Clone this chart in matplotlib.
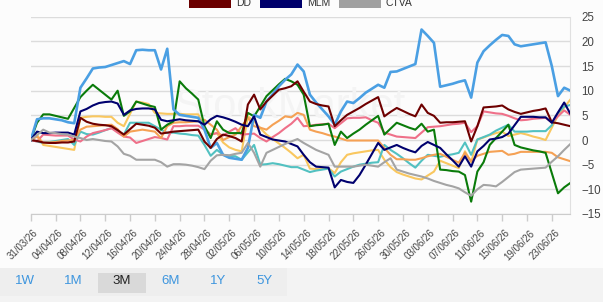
import datetime as dt
import matplotlib
matplotlib.use('Agg')
import matplotlib.pyplot as plt
import matplotlib.dates as mdates
import matplotlib.transforms as mtrans
from matplotlib.patches import Rectangle

plt.rcParams['font.family'] = ['Liberation Sans', 'DejaVu Sans']

##### Data (% change, daily from 31/03/26) #####
start = dt.date(2026, 3, 31)
dates = [start + dt.timedelta(days=i) for i in range(88)]

blue = [0, 4.2, 4.4, 4.4, 4.2, 4.0, 3.6, 3.4, 10.6, 12.5, 14.5, 14.7, 14.8, 15.2, 15.6, 16.0,
        15.4, 18.2, 18.3, 18.2, 18.2, 14.3, 18.5, 6.2, 5.1, 4.9, 4.7, 4.5, 2.1, -1.6,
        -0.6, -3.0, -3.6, -3.8, -4.0, -1.6, 5.1, 4.5, 7.8, 9.3, 10.9, 12.2, 13.3, 15.3, 13.9,
        9.2, 7.6, 6.2, 4.8, 3.1, 5.8, 7.8, 7.5, 8.5, 9.6, 10.4, 11.2, 10.6, 13.8, 13.9,
        14.4, 14.9, 15.4, 22.4, 21.1, 19.7, 10.8, 11.1, 11.4, 11.8, 12.1, 8.6, 15.7, 18.0, 19.2,
        20.3, 21.3, 21.1, 19.4, 19.0, 19.2, 19.4, 19.6, 19.8, 15.0, 8.9, 10.6, 10.0]
green = [0, 3.5, 5.2, 5.2, 4.9, 4.6, 4.3, 6.5, 8.7, 10.0, 11.2, 10.2, 9.2, 8.2, 10.0, 4.9,
         5.8, 7.8, 7.4, 7.0, 6.7, 2.1, 3.1, 3.8, 11.9, 10.5, 9.4, 8.2, 2.8, 0.4,
         3.8, 2.1, 1.4, 1.4, 1.4, 5.5, 4.8, 6.8, 8.9, 10.1, 11.3, 12.4, 11.9, 11.2, 9.2,
         2.8, 3.0, 3.1, 3.3, -1.0, 1.7, 0.4, 1.3, 2.1, 3.1, 4.0, 4.9, 1.1, 2.3, 3.5,
         3.0, 2.5, 2.1, 3.3, 1.7, 2.1, -6.0, -6.1, -6.3, -6.4, -7.1, -12.5, -6.4, -4.5, -1.0,
         0.4, 1.7, 3.1, -1.0, -1.5, -1.8, -2.1, -2.3, -2.6, -6.7, -10.8, -9.6, -8.7]
dd = [0, -0.2, -0.5, -0.6, -0.6, -0.5, -0.5, -0.3, 4.5, 3.7, 3.3, 3.1, 3.0, 2.8, 2.0, 1.1,
      2.2, 3.3, 3.1, 2.9, 2.5, 1.3, 1.5, 1.7, 1.8, 1.9, 2.0, 2.1, -0.3, -1.6,
      0.2, 1.1, 0.8, 0.4, -0.3, 7.2, 9.2, 6.2, 7.8, 9.0, 10.2, 10.5, 10.9, 11.9, 9.8,
      7.8, 7.3, 7.0, 6.8, 2.8, 4.0, 5.1, 5.8, 6.5, 7.3, 8.0, 8.7, 4.8, 5.7, 6.5,
      5.9, 5.3, 4.8, 7.2, 5.5, 4.9, 3.5, 3.6, 3.6, 3.7, 3.8, -0.3, 2.8, 6.6, 6.7,
      6.8, 7.0, 6.2, 5.7, 5.3, 5.6, 5.9, 6.1, 6.4, 3.6, 3.4, 3.1, 2.8]
mlm = [0, 1.7, 1.4, 1.4, 1.5, 1.5, 1.5, 1.1, 5.8, 6.3, 7.0, 7.5, 7.7, 7.8, 7.4, 5.1,
       6.0, 6.3, 6.4, 6.4, 6.2, 4.1, 3.8, 4.0, 4.2, 4.0, 3.9, 3.8, 3.1, 4.2,
       4.9, 4.6, 4.2, 3.7, 3.1, 2.8, 4.8, 1.1, 0.6, 0.1, -0.1, -0.3, -0.8, -1.3, -3.0,
       -4.5, -5.4, -5.5, -5.6, -9.6, -8.1, -8.5, -8.7, -7.1, -5.0, -2.8, -0.6, -2.0, -1.5, -1.0,
       -1.6, -2.1, -2.5, -1.2, -0.4, -1.0, -1.6, -2.9, -4.1, -5.4, -3.3, -5.4, -2.3, -1.2, 0.1,
       0.3, 0.6, 1.3, 3.0, 4.7, 4.7, 4.7, 4.6, 4.6, 3.5, 5.6, 7.6, 5.3]
ctva = [0, 1.0, 2.1, 1.5, 1.4, 1.2, 1.1, 0.7, 0.4, 0.0, 0.2, 0.0, -0.2, -0.3, -1.3, -2.8,
        -3.2, -4.0, -4.0, -4.0, -4.0, -4.5, -5.4, -4.9, -4.9, -5.0, -5.2, -5.5, -5.9, -4.2,
        -3.1, -3.0, -3.1, -2.8, -2.6, -0.6, -2.6, -5.4, -2.6, -2.0, -1.4, -0.8, -0.3, 0.2, -0.6,
        -1.3, -2.0, -2.5, -3.0, -5.4, -5.4, -5.4, -5.4, -5.2, -5.0, -5.2, -5.4, -4.5, -3.7, -6.0,
        -6.4, -6.8, -7.1, -7.4, -7.8, -8.3, -8.7, -9.1, -9.4, -9.8, -10.6, -11.3, -10.0, -9.1, -9.2,
        -9.4, -8.5, -7.5, -6.5, -6.0, -5.9, -5.8, -5.7, -5.6, -4.4, -3.3, -2.0, -0.8]
orange = [0, 0.7, -0.6, -0.5, -0.4, -0.2, -0.1, 0.0, 2.1, 2.7, 2.8, 2.9, 3.0, 3.1, 2.2, 0.7,
          1.7, 1.9, 2.1, 1.9, 1.7, 0.4, 2.8, 3.5, 3.6, 3.6, 3.7, 3.8, 4.1, 3.1,
          2.1, 0.0, 0.6, 1.1, 2.8, 4.5, 2.8, 2.5, 2.1, 3.1, 3.9, 4.8, 4.6, 5.5, 5.1,
          2.1, 1.7, 1.4, 1.0, 0.7, 0.3, -0.1, -0.1, -0.1, -0.1, -0.1, -0.1, -1.6, -3.0, -3.9,
          -3.9, -4.0, -4.0, -3.7, -3.3, -3.0, -2.8, -3.4, -4.0, -4.6, -2.6, -4.3, -3.2, -2.8, -2.4,
          -2.3, -2.2, -3.0, -2.8, -2.4, -2.4, -2.4, -2.4, -2.4, -2.6, -3.5, -3.9, -4.3]
pink = [0, -0.3, 1.1, 1.0, 0.9, 0.9, 0.9, 0.1, -0.3, 0.7, 1.4, 1.7, 2.0, 2.4, 1.5, 0.7,
        0.5, -0.6, -0.2, 0.2, 0.6, 0.4, 0.1, 2.8, 2.8, 2.9, 2.9, 2.9, 2.1, 1.1,
        1.4, 0.9, 1.7, 2.4, 1.1, 1.2, 1.3, 0.4, -0.3, 0.6, 1.4, 2.4, 3.3, 4.5, 2.8,
        2.9, 3.1, 3.2, 3.3, 2.4, 3.4, 4.4, 4.5, 4.5, 4.6, 4.0, 3.5, 1.5, 1.1, 0.7,
        0.6, 0.5, 0.4, 1.5, 2.6, 2.7, 2.8, 3.0, 3.2, 3.3, 3.5, 1.6, 2.8, 5.8, 5.6,
        5.4, 5.3, 4.9, 4.4, 4.0, 4.1, 4.3, 4.4, 4.5, 3.6, 4.8, 6.0, 5.1]
teal = [0, -0.3, -0.6, -0.4, -0.2, 0.0, 0.2, -1.0, 1.7, 1.2, 1.1, 1.5, 2.0, 2.4, 1.8, 1.1,
        3.5, 3.5, 3.5, 3.5, 2.8, 2.1, 1.4, 1.5, 1.3, 1.2, 1.0, 0.9, -1.0, -3.2,
        -2.0, -3.0, -3.2, -3.3, -4.0, -2.5, -1.0, -5.0, -4.9, -4.7, -4.9, -5.2, -5.5, -5.5, -6.0,
        -6.5, -6.2, -6.0, -5.8, -7.4, -6.4, -5.9, -5.4, -5.0, -4.8, -4.6, -4.5, -1.0, -2.0, -2.8,
        -3.7, -4.7, -5.6, -4.2, -3.0, -3.2, -3.4, -3.1, -2.9, -2.6, -0.5, -3.0, 0.1, 0.6, 1.1,
        1.9, 2.5, 3.1, 1.7, 1.7, 1.7, 1.8, 1.8, 1.8, 3.0, 5.5, 6.8, 7.1]
yellow = [0, 1.1, -1.0, -1.2, -1.4, -1.6, -1.8, -2.0, 4.5, 4.7, 4.8, 4.8, 4.7, 4.7, 3.5, 2.8,
          5.3, 7.8, 7.6, 7.3, 5.5, 5.4, 5.3, 5.3, 5.3, 5.2, 5.2, 5.2, 2.4, 1.1,
          1.4, -0.5, -1.5, -2.0, -2.3, 4.8, 3.8, 2.4, 1.1, 0.2, -0.7, -1.6, -2.6, -3.7, -3.0,
          -5.8, -5.9, -5.8, -5.7, -6.7, -4.5, -3.0, -2.7, -2.5, -2.3, -2.1, -2.0, -4.0, -5.5, -6.5,
          -7.0, -7.4, -7.8, -8.0, -7.2, -6.4, -4.2, -4.7, -5.2, -5.7, -2.3, -4.5, 0.1, 0.5, 1.0,
          1.4, 1.7, 0.8, 1.1, 1.4, 1.1, 0.7, 0.4, 0.0, 2.5, 5.0, 6.6, 8.2]

# drawing order: unnamed series first, legend tickers last
series = [(yellow, '#f9c75f'), (teal, '#52c1c1'), (pink, '#ef7089'),
          (orange, '#f5a154'), (green, '#0a7b0a'), (blue, '#4a9fe3'),
          (dd, '#6e0000'), (mlm, '#00006e'), (ctva, '#a4a4a4')]
widths = [1.5, 1.5, 1.5, 1.5, 1.5, 1.9, 1.5, 1.5, 1.5]

legend_labels = ['DD', 'MLM', 'CTVA']
legend_colors = ['#6b0000', '#00006b', '#a0a0a0']
legend_x = [189, 260, 339]

buttons = ['1W', '1M', '3M', '6M', '1Y', '5Y']
button_x = [24.7, 73.3, 121.7, 170.7, 218.3, 264.7]
selected = '3M'

#################

W, H = 603, 302
fig = plt.figure(figsize=(W / 100, H / 100), dpi=100)
fig.patch.set_facecolor('#fcfcfc')

def fx(px):
    return px / W

def fy(py):
    return 1 - py / H

ax = fig.add_axes([fx(30.8), fy(214.0), fx(570.4) - fx(30.8), fy(16.7) - fy(214.0)])
ax.set_facecolor('#fcfcfc')

for (vals, col), lw in zip(series, widths):
    ax.plot(dates, vals, color=col, lw=lw, solid_joinstyle='round', zorder=3)

ax.set_xlim(dates[0], dates[-1])
ax.set_ylim(-15, 25)
ax.set_yticks(range(-15, 26, 5))
ax.yaxis.tick_right()
ax.yaxis.grid(True, color='#dcdcdc', lw=1)
ax.set_axisbelow(True)
ax.tick_params(axis='y', length=0, pad=8, labelsize=8.3, labelcolor='#444444')
for lab in ax.get_yticklabels():
    lab.set_horizontalalignment('left')

ax.set_xticks(dates[::4])
ax.xaxis.set_major_formatter(mdates.DateFormatter('%d/%m/%y'))
ax.tick_params(axis='x', length=5, width=1, color='#cccccc', pad=5,
               labelsize=7, labelcolor='#444444')
shift = mtrans.ScaledTranslation(2.5 / 100, 0, fig.dpi_scale_trans)
for lab in ax.get_xticklabels():
    lab.set_rotation(45)
    lab.set_ha('right')
    lab.set_va('top')
    lab.set_rotation_mode('anchor')
    lab.set_transform(lab.get_transform() + shift)

for s in ['top', 'left']:
    ax.spines[s].set_visible(False)
ax.spines['bottom'].set_color('#cccccc')
ax.spines['right'].set_color('#e0e0e0')

# faint watermark
ax.text(0.48, 0.54, 'StockMarket', transform=ax.transAxes, fontsize=30, color='#f4f4f4',
        ha='center', va='center', zorder=1)

# legend row (the row above is cut off at the top edge)
for lab, col, x0 in zip(legend_labels, legend_colors, legend_x):
    fig.patches.append(Rectangle((fx(x0), fy(8.3)), fx(42), 13 / H, transform=fig.transFigure,
                                 facecolor=col, edgecolor='none'))
    fig.text(fx(x0 + 47), fy(6.5), lab, fontsize=7.5, color='#333333', va='baseline', ha='left')

# range buttons band
fig.patches.append(Rectangle((0, 0), 1, fy(267.5), transform=fig.transFigure,
                             facecolor='#f3f3f3', edgecolor='none', zorder=0))
fig.patches.append(Rectangle((0, fy(296)), fx(287), (296 - 267.5) / H, transform=fig.transFigure,
                             facecolor='#eeeeee', edgecolor='none', zorder=0))
for b, bx in zip(buttons, button_x):
    if b == selected:
        fig.patches.append(Rectangle((fx(97.7), fy(292.7)), fx(48.3), 20 / H,
                                     transform=fig.transFigure, facecolor='#d9d9d9',
                                     edgecolor='none', zorder=0))
        c = '#222222'
    else:
        c = '#3d95de'
    fig.text(fx(bx), fy(281), b, fontsize=9.5, color=c, ha='center', va='center')

fig.savefig('out.png', dpi=100, facecolor=fig.get_facecolor())
